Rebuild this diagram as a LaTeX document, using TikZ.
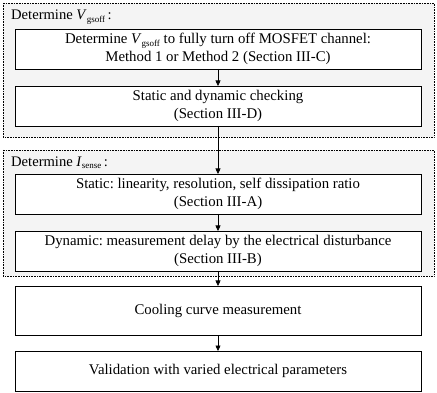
\documentclass[tikz,border=0pt]{standalone}
\usepackage{fontspec}
\setmainfont{Liberation Serif}
\usetikzlibrary{arrows.meta}
\frenchspacing
\newcommand{\subtxt}[2]{\textit{#1}\raisebox{-0.35ex}{\fontsize{9}{9}\selectfont #2}}
\begin{document}
\begin{tikzpicture}[x=1pt,y=-1pt,
  grp/.style={draw=black, densely dotted, line width=0.6pt, fill=gray!9},
  stepbox/.style={draw=black, line width=0.8pt, fill=white},
  txt/.style={font=\fontsize{14.8}{17.5}\selectfont, align=center, inner sep=0pt},
  lbl/.style={font=\fontsize{14.6}{17.5}\selectfont, anchor=west, inner sep=0pt},
  arr/.style={-{Triangle[length=5.5pt,width=5pt]}, line width=0.6pt}]
\useasboundingbox (0,0) rectangle (437,393);
\draw[grp] (3,3) rectangle (434,137);
\draw[grp] (3,150) rectangle (434,276);
\node[lbl] (l1) at (11,17) {Determine \subtxt{V}{gsoff}\,:};
\node[lbl] (l2) at (11,163) {Determine \subtxt{I}{sense}\,:};
\draw[stepbox] (15,29) rectangle (421,69);
\node[txt] (b1) at (218,49) {Determine \subtxt{V}{gsoff} to fully turn off MOSFET channel:\\Method 1 or Method 2 (Section III-C)};
\draw[stepbox] (15,86) rectangle (421,126);
\node[txt] (b2) at (218,106) {Static and dynamic checking\\(Section III-D)};
\draw[stepbox] (15,174) rectangle (421,214);
\node[txt] (b3) at (218,194) {Static: linearity, resolution, self dissipation ratio\\(Section III-A)};
\draw[stepbox] (15,231) rectangle (421,271);
\node[txt] (b4) at (218,251) {Dynamic: measurement delay by the electrical disturbance\\(Section III-B)};
\draw[stepbox] (15,286) rectangle (421,335);
\node[txt] (b5) at (218,310.5) {Cooling curve measurement};
\draw[stepbox] (15,351) rectangle (421,391);
\node[txt] (b6) at (218,371) {Validation with varied electrical parameters};
\coordinate (a1s) at (218,69); \coordinate (a1e) at (218,86);
\coordinate (a2s) at (218,126); \coordinate (a2e) at (218,174);
\coordinate (a3s) at (218,214); \coordinate (a3e) at (218,231);
\coordinate (a4s) at (218,271); \coordinate (a4e) at (218,286);
\coordinate (a5s) at (218,335); \coordinate (a5e) at (218,351);
\draw[arr] (a1s) -- (a1e);
\draw[arr] (a2s) -- (a2e);
\draw[arr] (a3s) -- (a3e);
\draw[arr] (a4s) -- (a4e);
\draw[arr] (a5s) -- (a5e);
\end{tikzpicture}
\end{document}
